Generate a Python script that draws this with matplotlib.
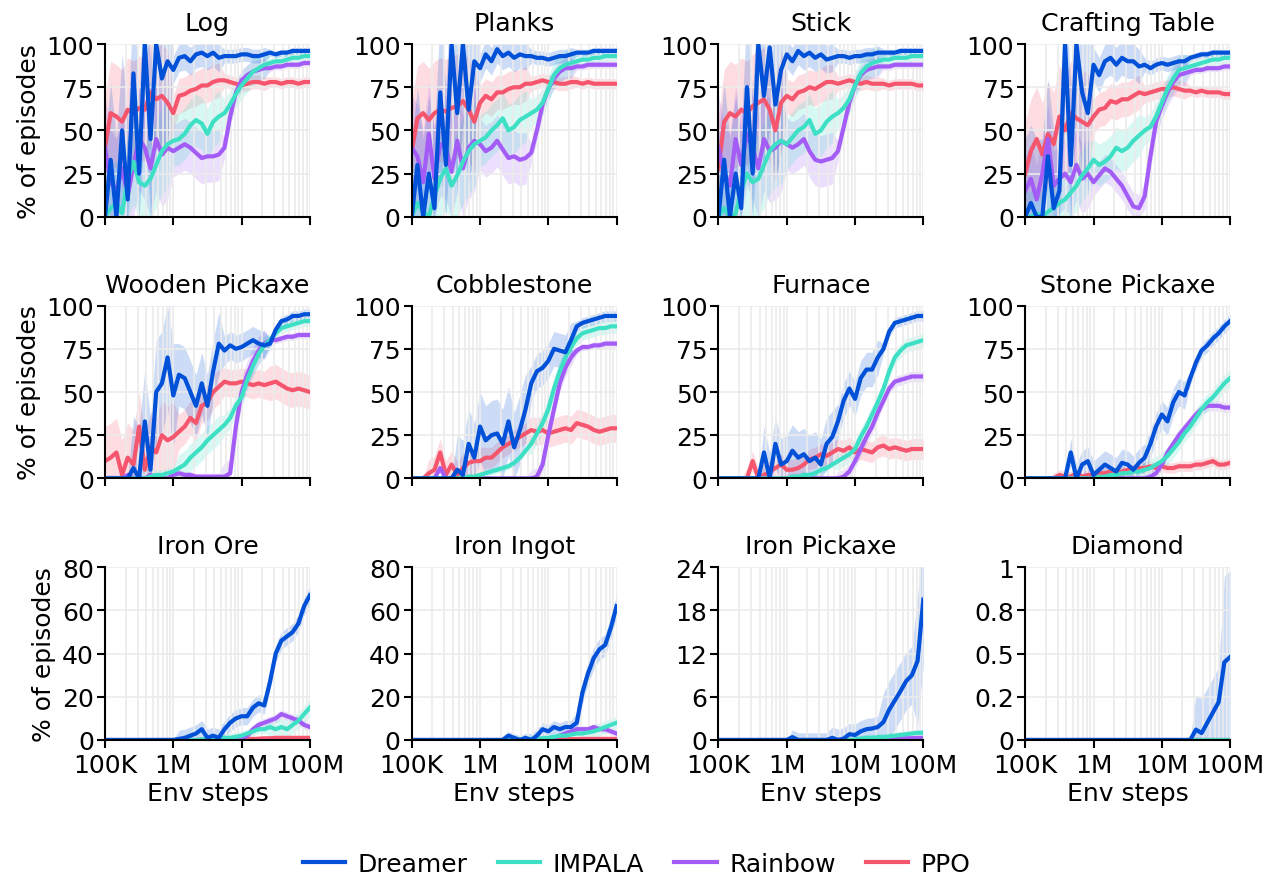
import numpy as np
import matplotlib
matplotlib.use('Agg')
import matplotlib.pyplot as plt
from matplotlib.ticker import NullFormatter, LogLocator

# ---------------- data ----------------
# sample grid of env steps (millions)
STEPS_M = [0.100, 0.121, 0.147, 0.178, 0.215, 0.261, 0.316, 0.383, 0.464, 0.562, 0.681, 0.825,
           1.00, 1.21, 1.47, 1.78, 2.15, 2.61, 3.16, 3.83, 4.64, 5.62, 6.81, 8.25,
           10.0, 12.1, 14.7, 17.8, 21.5, 26.1, 31.6, 38.3, 46.4, 56.2, 68.1, 82.5, 100.0]

tasks = ['Log', 'Planks', 'Stick', 'Crafting Table',
         'Wooden Pickaxe', 'Cobblestone', 'Furnace', 'Stone Pickaxe',
         'Iron Ore', 'Iron Ingot', 'Iron Pickaxe', 'Diamond']
methods = ['Dreamer', 'IMPALA', 'Rainbow', 'PPO']

# --- Log ---
log_dreamer = [0, 33, 0, 50, 10, 83, 25, 100, 45, 100, 80, 90,
               85, 92, 93, 90, 94, 95, 93, 95, 92, 93, 93, 93,
               94, 94, 93, 93, 94, 95, 94, 95, 95, 96, 96, 96, 96]
log_ppo = [40, 60, 58, 55, 62, 60, 63, 62, 72, 68, 70, 66,
           60, 70, 71, 73, 74, 76, 76, 78, 79, 79, 78, 77,
           76, 77, 78, 78, 77, 78, 78, 77, 78, 78, 77, 78, 78]
log_impala = [0, 5, 8, 2, 22, 32, 20, 18, 22, 30, 38, 42,
              44, 45, 48, 53, 56, 54, 48, 55, 58, 60, 65, 71,
              76, 80, 84, 86, 88, 89, 90, 90, 91, 92, 92, 93, 93]
log_rainbow = [40, 20, 15, 28, 12, 30, 45, 40, 28, 45, 36, 40,
               38, 40, 42, 40, 37, 34, 35, 35, 36, 40, 58, 72,
               79, 82, 84, 85, 86, 86, 87, 87, 88, 88, 88, 89, 89]
log_dreamer_sd = [45] * 12 + [8] * 9 + [4] * 8 + [2] * 8
log_ppo_sd = [30] * 12 + [10] * 9 + [4] * 8 + [3] * 8
log_impala_sd = [25] * 12 + [15] * 9 + [8] * 8 + [3] * 8
log_rainbow_sd = [30] * 12 + [15] * 9 + [6] * 8 + [2] * 8

# --- Planks ---
planks_dreamer = [0, 30, 0, 25, 5, 72, 30, 100, 60, 100, 62, 90,
                  86, 94, 90, 97, 93, 95, 92, 94, 93, 93, 92, 92,
                  91, 92, 93, 93, 94, 95, 95, 95, 96, 96, 96, 96, 96]
planks_ppo = [38, 57, 60, 56, 60, 62, 61, 63, 64, 67, 62, 55,
              66, 70, 68, 72, 72, 74, 75, 75, 77, 77, 78, 79,
              78, 78, 77, 77, 78, 78, 77, 78, 77, 77, 77, 77, 77]
planks_impala = [0, 8, 3, 0, 12, 22, 28, 18, 24, 32, 38, 42,
                 44, 46, 50, 53, 57, 50, 52, 56, 58, 60, 62, 66,
                 74, 82, 86, 88, 89, 90, 91, 91, 92, 92, 93, 93, 93]
planks_rainbow = [40, 35, 20, 48, 22, 42, 40, 26, 44, 28, 40, 44,
                  42, 38, 40, 44, 39, 34, 35, 33, 34, 37, 50, 65,
                  74, 80, 84, 86, 86, 87, 87, 88, 88, 88, 88, 88, 88]
planks_dreamer_sd = [45] * 12 + [8] * 9 + [4] * 8 + [2] * 8
planks_ppo_sd = [30] * 12 + [10] * 9 + [4] * 8 + [3] * 8
planks_impala_sd = [25] * 12 + [15] * 9 + [8] * 8 + [3] * 8
planks_rainbow_sd = [30] * 12 + [15] * 9 + [6] * 8 + [2] * 8

# --- Stick ---
stick_dreamer = [0, 33, 0, 25, 5, 75, 25, 100, 70, 98, 65, 85,
                 94, 90, 96, 93, 95, 92, 94, 91, 92, 93, 93, 92,
                 93, 93, 94, 94, 95, 95, 95, 95, 96, 96, 96, 96, 96]
stick_ppo = [28, 55, 60, 58, 62, 60, 64, 66, 68, 62, 50, 66,
             70, 68, 72, 73, 75, 74, 76, 78, 78, 77, 78, 79,
             78, 77, 78, 77, 77, 77, 76, 77, 77, 77, 77, 76, 76]
stick_impala = [0, 5, 0, 2, 15, 25, 20, 22, 30, 38, 42, 44,
                42, 46, 50, 52, 56, 48, 50, 55, 58, 60, 63, 68,
                76, 83, 87, 89, 90, 91, 91, 92, 92, 92, 93, 93, 93]
stick_rainbow = [40, 25, 18, 45, 30, 48, 40, 28, 45, 38, 40, 44,
                 42, 40, 42, 45, 38, 33, 32, 33, 34, 38, 52, 66,
                 76, 82, 85, 86, 87, 87, 87, 88, 88, 88, 88, 88, 88]
stick_dreamer_sd = [45] * 12 + [8] * 9 + [4] * 8 + [2] * 8
stick_ppo_sd = [30] * 12 + [10] * 9 + [4] * 8 + [3] * 8
stick_impala_sd = [25] * 12 + [15] * 9 + [8] * 8 + [3] * 8
stick_rainbow_sd = [30] * 12 + [15] * 9 + [6] * 8 + [2] * 8

# --- Crafting Table ---
table_dreamer = [0, 8, 0, 0, 35, 5, 15, 100, 30, 100, 72, 60,
                 88, 82, 90, 92, 88, 92, 90, 90, 87, 88, 86, 88,
                 89, 88, 89, 90, 90, 92, 93, 94, 94, 95, 95, 95, 95]
table_ppo = [25, 38, 45, 36, 48, 42, 58, 50, 60, 57, 55, 53,
             58, 62, 63, 67, 66, 68, 68, 70, 72, 71, 72, 73,
             74, 74, 75, 74, 73, 73, 72, 73, 72, 72, 72, 71, 71]
table_impala = [0, 0, 2, 0, 3, 5, 8, 10, 14, 18, 24, 28,
                33, 30, 32, 35, 40, 38, 40, 44, 47, 50, 52, 58,
                66, 74, 80, 85, 86, 87, 88, 89, 90, 91, 91, 92, 92]
table_rainbow = [15, 22, 10, 25, 45, 18, 22, 25, 20, 30, 22, 25,
                 20, 24, 28, 26, 22, 18, 12, 6, 5, 12, 35, 55,
                 64, 72, 78, 82, 83, 84, 85, 85, 86, 86, 86, 87, 87]
table_dreamer_sd = [45] * 12 + [10] * 9 + [4] * 8 + [2] * 8
table_ppo_sd = [30] * 12 + [10] * 9 + [5] * 8 + [3] * 8
table_impala_sd = [15] * 12 + [12] * 9 + [8] * 8 + [3] * 8
table_rainbow_sd = [20] * 12 + [8] * 9 + [8] * 8 + [2] * 8

# --- Wooden Pickaxe ---
wood_dreamer = [0, 0, 0, 0, 0, 6, 0, 33, 5, 50, 55, 70,
                48, 60, 58, 50, 42, 55, 42, 62, 78, 74, 77, 75,
                76, 78, 80, 78, 77, 78, 86, 91, 92, 94, 94, 95, 95]
wood_ppo = [10, 12, 15, 2, 12, 8, 30, 5, 18, 15, 25, 22,
            24, 27, 30, 35, 32, 42, 44, 50, 53, 56, 55, 55,
            56, 55, 54, 55, 54, 55, 56, 54, 52, 51, 52, 51, 50]
wood_impala = [0, 0, 0, 0, 0, 0, 0, 0, 1, 2, 2, 3,
               4, 6, 8, 12, 15, 18, 22, 25, 28, 31, 35, 42,
               47, 57, 65, 72, 77, 80, 84, 87, 88, 89, 90, 91, 91]
wood_rainbow = [0, 0, 0, 0, 2, 0, 0, 0, 2, 1, 0, 0,
                2, 3, 2, 2, 1, 1, 1, 1, 1, 1, 3, 30,
                50, 60, 68, 74, 78, 80, 80, 81, 82, 82, 83, 83, 83]
wood_dreamer_sd = [0] * 5 + [30] * 8 + [18] * 8 + [8] * 8 + [3] * 8
wood_ppo_sd = [20] * 13 + [10] * 8 + [8] * 8 + [10] * 8
wood_impala_sd = [0] * 8 + [3] * 5 + [8] * 8 + [6] * 8 + [3] * 8
wood_rainbow_sd = [2] * 13 + [2] * 8 + [8] * 8 + [2] * 8

# --- Cobblestone ---
cobble_dreamer = [0, 0, 0, 0, 0, 0, 0, 0, 5, 2, 20, 12,
                  30, 22, 25, 26, 20, 33, 18, 28, 40, 55, 62, 64,
                  68, 75, 74, 73, 80, 88, 90, 91, 92, 93, 94, 94, 94]
cobble_ppo = [0, 0, 0, 3, 5, 15, 2, 8, 2, 6, 9, 10,
              10, 12, 12, 15, 18, 20, 22, 24, 26, 28, 27, 28,
              26, 27, 28, 29, 28, 32, 31, 30, 28, 27, 28, 29, 29]
cobble_impala = [0, 0, 0, 0, 0, 0, 0, 0, 0, 0, 1, 1,
                 2, 3, 4, 5, 6, 7, 9, 12, 16, 20, 26, 32,
                 40, 52, 62, 70, 76, 81, 84, 85, 86, 87, 87, 88, 88]
cobble_rainbow = [0, 0, 0, 0, 0, 6, 0, 0, 0, 0, 0, 0,
                  0, 0, 0, 0, 0, 0, 0, 0, 0, 0, 1, 8,
                  25, 40, 55, 64, 70, 74, 76, 76, 77, 77, 78, 78, 78]
cobble_dreamer_sd = [0] * 8 + [20] * 13 + [10] * 8 + [3] * 8
cobble_ppo_sd = [0] * 3 + [8] * 10 + [6] * 8 + [8] * 16
cobble_impala_sd = [0] * 10 + [2] * 11 + [6] * 8 + [4] * 8
cobble_rainbow_sd = [0] * 21 + [5] * 8 + [2] * 8

# --- Furnace ---
furnace_dreamer = [0, 0, 0, 0, 0, 0, 0, 0, 15, 0, 20, 8,
                   10, 16, 12, 14, 10, 12, 8, 20, 24, 33, 45, 52,
                   46, 58, 63, 63, 70, 75, 85, 90, 91, 92, 93, 94, 94]
furnace_ppo = [0, 0, 0, 0, 0, 0, 10, 0, 2, 4, 6, 8,
               5, 5, 6, 8, 11, 12, 14, 13, 15, 17, 16, 18,
               15, 17, 16, 15, 18, 19, 17, 18, 17, 16, 17, 17, 17]
furnace_impala = [0, 0, 0, 0, 0, 0, 0, 0, 0, 0, 0, 0,
                  0, 1, 1, 2, 2, 3, 5, 6, 8, 10, 12, 14,
                  17, 24, 30, 37, 44, 52, 62, 70, 74, 77, 78, 79, 80]
furnace_rainbow = [0, 0, 0, 0, 0, 0, 0, 0, 0, 0, 0, 0,
                   0, 0, 0, 0, 0, 0, 0, 0, 0, 0, 1, 4,
                   10, 17, 24, 30, 38, 45, 52, 56, 57, 58, 59, 59, 59]
furnace_dreamer_sd = [0] * 8 + [15] * 13 + [10] * 8 + [3] * 8
furnace_ppo_sd = [0] * 5 + [6] * 32
furnace_impala_sd = [0] * 12 + [2] * 9 + [5] * 8 + [4] * 8
furnace_rainbow_sd = [0] * 21 + [4] * 8 + [3] * 8

# --- Stone Pickaxe ---
stone_dreamer = [0, 0, 0, 0, 0, 0, 0, 0, 15, 0, 8, 10,
                 2, 5, 8, 6, 4, 9, 8, 5, 9, 12, 20, 30,
                 37, 33, 44, 50, 48, 58, 67, 74, 77, 81, 84, 88, 91]
stone_ppo = [0, 0, 0, 0, 0, 0, 2, 1, 1, 3, 1, 2,
             2, 3, 3, 4, 3, 4, 5, 5, 6, 6, 7, 6,
             7, 6, 6, 7, 7, 7, 8, 8, 9, 10, 8, 8, 9]
stone_impala = [0, 0, 0, 0, 0, 0, 0, 0, 0, 0, 0, 0,
                0, 1, 1, 2, 2, 3, 3, 4, 4, 5, 6, 8,
                10, 13, 17, 21, 26, 30, 35, 40, 44, 47, 51, 55, 58]
stone_rainbow = [0, 0, 0, 0, 0, 0, 0, 0, 0, 0, 0, 0,
                 0, 0, 0, 0, 0, 0, 0, 0, 0, 0, 1, 3,
                 8, 15, 20, 25, 29, 33, 37, 40, 42, 42, 42, 41, 41]
stone_dreamer_sd = [0] * 8 + [8] * 13 + [8] * 8 + [4] * 8
stone_ppo_sd = [0] * 5 + [3] * 32
stone_impala_sd = [0] * 12 + [2] * 9 + [5] * 8 + [5] * 8
stone_rainbow_sd = [0] * 21 + [3] * 8 + [3] * 8

# --- Iron Ore ---
ore_dreamer = [0, 0, 0, 0, 0, 0, 0, 0, 0, 0, 0, 0,
               0, 0.5, 1, 2, 3, 5, 1, 2, 1, 5, 8, 10,
               11, 11, 15, 17, 16, 27, 40, 46, 48, 50, 54, 62, 67]
ore_ppo = [0] * 24 + [0.3, 0.5, 0.5, 0.6, 0.8, 0.8, 1, 1, 1, 1, 1, 1, 1]
ore_impala = [0, 0, 0, 0, 0, 0, 0, 0, 0, 0, 0, 0,
              0, 0, 0, 0, 0, 0.3, 0.5, 0.5, 0.5, 1, 1, 1.5,
              2, 3, 4, 5, 5, 6, 5, 6, 5, 7, 9, 12, 15]
ore_rainbow = [0] * 24 + [0.5, 2, 5, 7, 8, 9, 10, 12, 11, 10, 9, 7, 6]
ore_dreamer_sd = [0] * 13 + [4] * 8 + [4] * 8 + [4] * 8
ore_ppo_sd = [0] * 24 + [0.5] * 13
ore_impala_sd = [0] * 17 + [1] * 4 + [2] * 8 + [4] * 8
ore_rainbow_sd = [0] * 24 + [2] * 13

# --- Iron Ingot ---
ingot_dreamer = [0, 0, 0, 0, 0, 0, 0, 0, 0, 0, 0, 0,
                 0, 0, 0, 0, 0, 2, 1, 0, 1, 0, 2, 5,
                 4, 6, 5, 6, 6, 8, 22, 31, 38, 42, 44, 52, 62]
ingot_ppo = [0] * 24 + [0.2, 0.3, 0.3, 0.3, 0.4, 0.4, 0.5, 0.5, 0.5, 0.5, 0.5, 0.5, 0.5]
ingot_impala = [0, 0, 0, 0, 0, 0, 0, 0, 0, 0, 0, 0,
                0, 0, 0, 0, 0, 0, 0.3, 0.3, 0.5, 0.5, 0.6, 0.8,
                1, 1.5, 2, 2, 2.5, 3, 3, 3.5, 4, 5, 6, 7, 8]
ingot_rainbow = [0] * 24 + [0.5, 1, 2, 3, 4, 5, 5, 5, 6, 5, 5, 4, 3]
ingot_dreamer_sd = [0] * 16 + [2] * 5 + [3] * 8 + [5] * 8
ingot_ppo_sd = [0] * 24 + [0.3] * 13
ingot_impala_sd = [0] * 18 + [1] * 11 + [3] * 8
ingot_rainbow_sd = [0] * 24 + [1.5] * 13

# --- Iron Pickaxe ---
ipick_dreamer = [0, 0, 0, 0, 0, 0, 0, 0, 0, 0, 0, 0,
                 0, 0.4, 0, 0, 0, 0, 0, 0, 0.3, 0, 0.2, 0.8,
                 0.7, 1.2, 1.5, 1.6, 1.8, 2.5, 4.2, 5.5, 6.8, 8.2, 9.0, 11, 19.5]
ipick_ppo = [0] * 37
ipick_impala = [0] * 24 + [0.1, 0.2, 0.3, 0.3, 0.4, 0.4, 0.5, 0.6, 0.7, 0.8, 0.9, 1.0, 1.0]
ipick_rainbow = [0] * 24 + [0, 0.05, 0.1, 0.1, 0.1, 0.15, 0.2, 0.2, 0.2, 0.25, 0.25, 0.3, 0.3]
ipick_dreamer_sd = [0] * 13 + [1] * 7 + [1.5] * 9 + [4] * 6 + [9] * 2
ipick_ppo_sd = [0] * 24 + [0.2] * 13
ipick_impala_sd = [0] * 24 + [0.5] * 13
ipick_rainbow_sd = [0] * 24 + [0.2] * 13

# --- Diamond ---
diamond_dreamer = [0] * 30 + [0.06, 0.04, 0.1, 0.16, 0.22, 0.45, 0.48]
diamond_ppo = [0] * 37
diamond_impala = [0] * 37
diamond_rainbow = [0] * 37
diamond_dreamer_sd = [0] * 30 + [0.2] * 5 + [0.5] * 2
diamond_ppo_sd = [0] * 37
diamond_impala_sd = [0] * 37
diamond_rainbow_sd = [0] * 37

# y axis ticks per task
yticks_pct = [0, 25, 50, 75, 100]
yticks_ore = [0, 20, 40, 60, 80]
yticks_ipick = [0, 6, 12, 18, 24]
yticks_diamond = [0, 0.25, 0.5, 0.75, 1]
ylabels_diamond = ['0', '0.2', '0.5', '0.8', '1']
xtick_labels = ['100K', '1M', '10M', '100M']

# ---------------- assembly ----------------
panels = [
    (log_dreamer, log_impala, log_rainbow, log_ppo, log_dreamer_sd, log_impala_sd, log_rainbow_sd, log_ppo_sd, yticks_pct, None),
    (planks_dreamer, planks_impala, planks_rainbow, planks_ppo, planks_dreamer_sd, planks_impala_sd, planks_rainbow_sd, planks_ppo_sd, yticks_pct, None),
    (stick_dreamer, stick_impala, stick_rainbow, stick_ppo, stick_dreamer_sd, stick_impala_sd, stick_rainbow_sd, stick_ppo_sd, yticks_pct, None),
    (table_dreamer, table_impala, table_rainbow, table_ppo, table_dreamer_sd, table_impala_sd, table_rainbow_sd, table_ppo_sd, yticks_pct, None),
    (wood_dreamer, wood_impala, wood_rainbow, wood_ppo, wood_dreamer_sd, wood_impala_sd, wood_rainbow_sd, wood_ppo_sd, yticks_pct, None),
    (cobble_dreamer, cobble_impala, cobble_rainbow, cobble_ppo, cobble_dreamer_sd, cobble_impala_sd, cobble_rainbow_sd, cobble_ppo_sd, yticks_pct, None),
    (furnace_dreamer, furnace_impala, furnace_rainbow, furnace_ppo, furnace_dreamer_sd, furnace_impala_sd, furnace_rainbow_sd, furnace_ppo_sd, yticks_pct, None),
    (stone_dreamer, stone_impala, stone_rainbow, stone_ppo, stone_dreamer_sd, stone_impala_sd, stone_rainbow_sd, stone_ppo_sd, yticks_pct, None),
    (ore_dreamer, ore_impala, ore_rainbow, ore_ppo, ore_dreamer_sd, ore_impala_sd, ore_rainbow_sd, ore_ppo_sd, yticks_ore, None),
    (ingot_dreamer, ingot_impala, ingot_rainbow, ingot_ppo, ingot_dreamer_sd, ingot_impala_sd, ingot_rainbow_sd, ingot_ppo_sd, yticks_ore, None),
    (ipick_dreamer, ipick_impala, ipick_rainbow, ipick_ppo, ipick_dreamer_sd, ipick_impala_sd, ipick_rainbow_sd, ipick_ppo_sd, yticks_ipick, None),
    (diamond_dreamer, diamond_impala, diamond_rainbow, diamond_ppo, diamond_dreamer_sd, diamond_impala_sd, diamond_rainbow_sd, diamond_ppo_sd, yticks_diamond, ylabels_diamond),
]

colors = {'Dreamer': '#0050d8', 'IMPALA': '#3ee0c5', 'Rainbow': '#a35cf5', 'PPO': '#f5566e'}
draw_order = ['PPO', 'Rainbow', 'IMPALA', 'Dreamer']

FS = 18
FS_TITLE = 18.2
plt.rcParams['font.family'] = ['DejaVu Sans']

steps = np.array(STEPS_M) * 1e6

fig, axes = plt.subplots(3, 4, figsize=(12.76, 8.79), dpi=100)
fig.subplots_adjust(left=0.0823, right=0.964, bottom=0.157, top=0.9488,
                    wspace=0.4976, hspace=0.514)

handles = {}
for k, (ax, task, pan) in enumerate(zip(axes.flat, tasks, panels)):
    means = dict(zip(methods, pan[0:4]))
    sds = dict(zip(methods, pan[4:8]))
    yt, ylab = pan[8], pan[9]
    ymax = yt[-1]
    for m in draw_order:
        mu = np.array(means[m], dtype=float)
        sd = np.array(sds[m], dtype=float)
        lo = np.clip(mu - sd, 0, None)
        hi = mu + sd
        ax.fill_between(steps, lo, hi, color=colors[m], alpha=0.2, lw=0, zorder=1)
        ln, = ax.plot(steps, mu, color=colors[m], lw=3.0, zorder=2,
                      solid_joinstyle='round')
        handles[m] = ln
    ax.set_xscale('log')
    ax.set_xlim(1e5, 1e8)
    ax.set_ylim(0, ymax)
    ax.set_yticks(yt)
    if ylab is not None:
        ax.set_yticklabels(ylab)
    ax.set_xticks([1e5, 1e6, 1e7, 1e8])
    if k >= 8:
        ax.set_xticklabels(xtick_labels)
        ax.set_xlabel('Env steps', fontsize=FS, labelpad=3)
    else:
        ax.set_xticklabels([])
    ax.xaxis.set_minor_locator(LogLocator(base=10, subs=np.arange(2, 10), numticks=50))
    ax.xaxis.set_minor_formatter(NullFormatter())
    ax.tick_params(axis='x', which='minor', length=0)
    ax.tick_params(which='major', labelsize=FS, length=6, width=1.5, pad=2)
    ax.tick_params(axis='x', which='major', pad=3.5)
    ax.set_axisbelow('line')
    ax.grid(True, which='both', axis='x', color='#ebebeb', lw=1.2)
    ax.grid(True, which='major', axis='y', color='#ebebeb', lw=1.2)
    for s in ['top', 'right']:
        ax.spines[s].set_visible(False)
    for s in ['left', 'bottom']:
        ax.spines[s].set_linewidth(1.5)
    ax.set_title(task, fontsize=FS_TITLE, pad=10)
    if k % 4 == 0:
        ax.set_ylabel('% of episodes', fontsize=FS)

fig.legend([handles[m] for m in methods], methods, loc='center',
           bbox_to_anchor=(0.499, 1 - 865 / 879), ncol=4, frameon=False,
           fontsize=FS, handlelength=1.7, handletextpad=0.5, columnspacing=1.2)

fig.savefig('out.png', dpi=100)
